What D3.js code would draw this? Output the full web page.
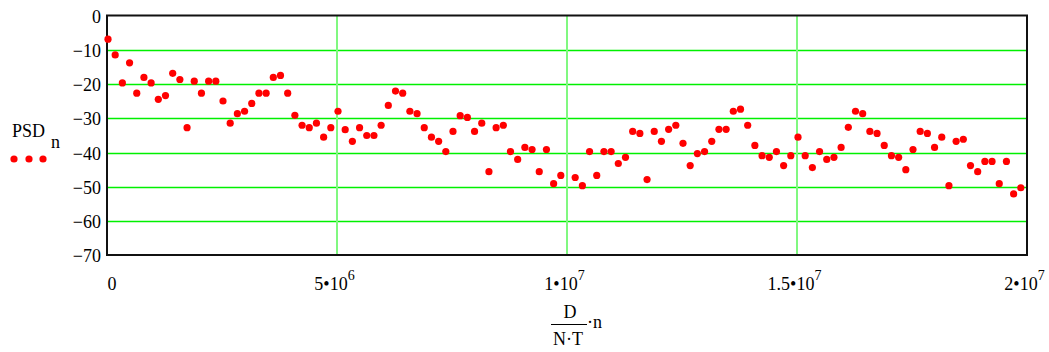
<!DOCTYPE html>
<html>
<head>
<meta charset="utf-8">
<script src="https://cdn.jsdelivr.net/npm/d3@7"></script>
<style>
  html, body { margin: 0; padding: 0; background: #fff; }
  svg { display: block; }
</style>
</head>
<body>
<svg id="chart" width="1049" height="352"></svg>
<script>
// Frequency resolution D/(N·T) and spectrum bins n = 0..127
const freqStep = 156250;
// Power spectral density per bin (dB); bin 64 falls below the plotted range
const psd = [
  -6.8, -11.4, -19.6, -13.7, -22.6, -18.0, -19.6, -24.4, -23.3, -16.8,
  -18.6, -32.7, -19.1, -22.6, -19.1, -19.1, -24.9, -31.4, -28.6, -27.9,
  -25.6, -22.6, -22.6, -18.0, -17.4, -22.6, -29.1, -32.0, -32.7, -31.4,
  -35.5, -32.7, -27.9, -33.3, -36.7, -32.7, -35.0, -35.0, -32.0, -26.2,
  -22.0, -22.6, -27.9, -28.6, -32.7, -35.5, -36.7, -39.7, -33.8, -29.2,
  -29.7, -33.8, -31.4, -45.6, -32.7, -32.0, -39.7, -42.0, -38.5, -39.1,
  -45.6, -39.1, -49.1, -46.7, null, -47.3, -49.7, -39.7, -46.7, -39.7,
  -39.7, -43.2, -41.4, -33.8, -34.4, -47.9, -33.8, -36.7, -33.2, -32.0,
  -37.3, -43.8, -40.3, -39.7, -36.7, -33.2, -33.2, -27.9, -27.3, -32.0,
  -37.9, -40.9, -41.4, -39.7, -43.8, -40.9, -35.5, -40.9, -44.4, -39.7,
  -42.0, -41.4, -38.5, -32.6, -27.9, -28.6, -33.8, -34.4, -37.9, -40.9,
  -41.4, -45.0, -39.1, -33.8, -34.4, -38.5, -35.5, -49.7, -36.7, -36.1,
  -43.8, -45.6, -42.6, -42.6, -49.1, -42.6, -52.1, -50.3
];

// Axis ticks and their labels
const xTicks = [0, 5e6, 1e7, 1.5e7, 2e7];
const xTickMantissa = ["0", "5\u202210", "1\u202210", "1.5\u202210", "2\u202210"];
const xTickExponent = ["", "6", "7", "7", "7"];
const yTicks = [0, -10, -20, -30, -40, -50, -60, -70];
const yTickLabels = ["0", "\u221210", "\u221220", "\u221230", "\u221240", "\u221250", "\u221260", "\u221270"];

const serif = '"Liberation Serif", "Times New Roman", serif';
const svg = d3.select("#chart").style("font-family", serif);
const plot = { left: 107, right: 1027, top: 16, bottom: 255 };

const x = d3.scaleLinear().domain([0, 2e7]).range([plot.left, plot.right]);
const y = d3.scaleLinear().domain([-70, 0]).range([plot.bottom, plot.top]);

// Horizontal grid lines
svg.append("g")
  .selectAll("line")
  .data(yTicks.filter(v => v > -70 && v < 0))
  .join("line")
  .attr("x1", plot.left).attr("x2", plot.right)
  .attr("y1", d => Math.round(y(d)) + 0.5).attr("y2", d => Math.round(y(d)) + 0.5)
  .attr("stroke", "#00f000").attr("stroke-width", 1.3);

// Vertical grid lines
svg.append("g")
  .selectAll("line")
  .data(xTicks.filter(v => v > 0 && v < 2e7))
  .join("line")
  .attr("x1", d => x(d)).attr("x2", d => x(d))
  .attr("y1", plot.top).attr("y2", plot.bottom)
  .attr("stroke", "#80f880").attr("stroke-width", 2);

// Plot frame
svg.append("rect")
  .attr("x", plot.left).attr("y", plot.top - 0.5)
  .attr("width", plot.right - plot.left).attr("height", plot.bottom - plot.top + 0.5)
  .attr("fill", "none").attr("stroke", "#111").attr("stroke-width", 2);

// Y axis labels
const yAxis = d3.axisLeft(y).tickValues(yTicks).tickSize(0).tickPadding(6)
  .tickFormat((d, i) => yTickLabels[i]);
const gy = svg.append("g").attr("transform", `translate(${plot.left},0)`).call(yAxis);
gy.select(".domain").remove();
gy.attr("font-family", null).attr("font-size", 18).style("font-family", serif);
gy.selectAll("text").attr("fill", "#000").attr("dy", "0.36em");

// X axis labels with powers of ten
const xAxis = d3.axisBottom(x).tickValues(xTicks).tickSize(0).tickFormat("");
const gx = svg.append("g").attr("transform", `translate(0,${plot.bottom})`).call(xAxis);
gx.select(".domain").remove();
gx.attr("font-family", null).attr("font-size", 18).style("font-family", serif);
gx.selectAll(".tick text").each(function (d, i) {
  const t = d3.select(this)
    .attr("y", 0).attr("dy", 0)
    .attr("transform", "translate(0,35)")
    .attr("fill", "#000");
  if (i === 0) {
    t.attr("text-anchor", "start").attr("x", 0);
  } else {
    t.attr("text-anchor", "middle").attr("x", -3);
  }
  t.append("tspan").text(xTickMantissa[i]);
  if (xTickExponent[i]) {
    t.append("tspan").attr("dy", -10).attr("font-size", 14).text(xTickExponent[i]);
  }
});

// X axis title: D/(N·T)·n
const xt = svg.append("g").attr("font-size", 18).attr("fill", "#000");
xt.append("text").attr("x", 570).attr("y", 318).attr("text-anchor", "middle").text("D");
xt.append("line").attr("x1", 551).attr("x2", 587).attr("y1", 324.5).attr("y2", 324.5)
  .attr("stroke", "#000").attr("stroke-width", 1);
xt.append("text").attr("x", 568).attr("y", 345).attr("text-anchor", "middle").text("N\u00B7T");
xt.append("text").attr("x", 587).attr("y", 328).text("\u00B7n");

// Y axis title and legend
const lg = svg.append("g").attr("font-size", 18).attr("fill", "#000");
lg.append("text").attr("x", 12).attr("y", 137).text("PSD");
lg.append("text").attr("x", 51).attr("y", 148).text("n");
lg.selectAll("circle").data([14, 29, 43]).join("circle")
  .attr("cx", d => d).attr("cy", 159).attr("r", 3.6).attr("fill", "#ff0000");

// Spectrum points
svg.append("g")
  .selectAll("circle")
  .data(psd.map((v, n) => ({ f: n * freqStep, v })).filter(d => d.v !== null))
  .join("circle")
  .attr("cx", d => x(d.f) + 1)
  .attr("cy", d => y(d.v))
  .attr("r", 3.6)
  .attr("fill", "#ff0000");
</script>
</body>
</html>
